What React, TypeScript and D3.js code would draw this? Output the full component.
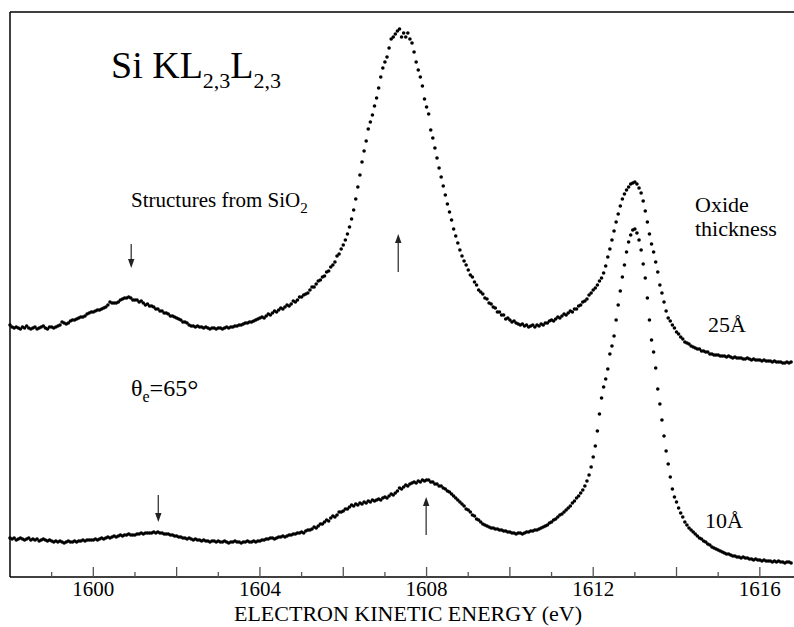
import React from 'react';
import * as d3 from 'd3';

// Energy grid of the measured spectra (eV)
const E_START = 1598.0;
const E_STEP = 0.05;

// Intensity (a.u.), 25 Å oxide, one value per 0.05 eV from 1598.00 eV
const intensity25 = [
  252,250,249,250,249,248,250,249,251,249,248,249,250,248,249,250,251,249,248,250,
  250,249,250,251,252,255,254,253,254,256,257,257,258,259,260,260,261,263,264,265,
  265,266,267,267,268,269,270,272,275,274,274,274,275,277,278,279,279,280,279,277,
  277,277,275,276,274,272,273,271,271,270,268,268,266,266,264,264,263,261,261,260,
  259,258,257,255,255,254,252,251,251,250,251,250,250,249,250,249,248,249,249,248,
  249,249,248,249,250,249,250,250,251,251,252,252,253,254,254,255,255,256,257,258,
  259,260,259,261,263,262,264,266,265,267,269,268,270,272,271,273,276,275,277,280,
  280,282,283,284,287,290,290,293,296,297,300,301,305,306,310,312,315,321,323,328,
  332,337,343,350,358,367,378,390,402,415,426,436,448,455,462,471,479,489,500,509,
  515,520,529,538,540,543,546,548,540,544,540,544,538,534,525,515,507,500,491,478,
  470,463,447,439,429,419,409,400,391,382,373,365,357,348,341,334,327,321,316,312,
  307,302,300,295,292,287,285,283,279,278,274,273,270,269,265,265,262,262,258,259,
  257,255,256,254,253,252,253,251,252,250,251,252,250,252,251,253,252,254,254,256,
  257,256,258,260,259,261,263,262,264,266,265,268,268,271,272,275,276,278,282,284,
  287,289,292,296,299,304,311,320,328,337,346,355,363,371,378,383,387,390,393,394,
  395,393,389,384,376,366,355,343,333,325,315,305,292,284,275,266,259,256,252,249,
  245,243,240,238,235,234,233,231,230,229,228,228,226,226,225,225,223,223,222,222,
  222,221,221,221,220,221,220,219,220,219,219,219,218,218,219,218,217,218,217,217,
  217,216,217,216,216,216,215,216,215,215,215,214,214,215,214,215,
];

// Intensity (a.u.), 10 Å oxide
const intensity10 = [
  39,38,39,37,38,39,38,37,38,39,37,38,37,38,36,37,38,37,36,37,
  36,35,36,35,36,35,34,35,36,35,35,36,35,36,36,37,36,37,37,37,
  37,38,37,38,39,38,39,40,39,40,41,40,41,42,41,42,42,43,42,42,
  42,43,43,44,43,44,44,44,44,45,44,45,44,44,43,43,43,42,42,41,
  41,40,40,39,39,38,39,38,37,38,37,37,36,37,36,36,35,36,36,35,
  36,35,35,36,35,34,35,35,36,35,35,34,35,35,36,35,35,36,35,36,
  36,37,37,38,38,39,39,38,39,40,40,41,40,41,42,42,43,43,44,44,
  45,44,46,47,47,48,50,49,51,53,53,55,57,56,59,61,60,62,65,65,
  66,68,68,70,72,71,73,72,74,73,75,74,76,75,77,76,77,78,77,79,
  80,79,81,83,82,84,86,89,88,90,92,91,93,94,95,94,96,95,97,96,
  97,97,95,95,93,93,91,91,89,88,86,85,83,81,79,77,75,73,71,68,
  67,65,62,61,58,57,55,53,52,51,50,49,49,48,48,47,47,46,46,45,
  45,44,44,43,44,44,43,44,45,45,46,46,47,47,48,49,50,51,52,54,
  55,57,58,60,62,63,65,67,69,71,74,76,79,81,84,87,91,96,102,110,
  120,131,146,163,179,190,198,208,223,231,241,257,272,286,300,312,325,335,342,347,
  348,344,337,327,313,299,279,257,237,225,209,188,173,157,141,126,113,100,88,80,
  75,69,64,60,55,52,49,47,45,43,41,39,38,36,35,33,32,30,29,28,
  27,26,25,24,23,23,22,21,21,20,20,19,20,19,19,18,18,17,18,17,
  17,16,17,16,16,16,15,16,15,16,15,15,14,15,15,14,
];

const labeledTicks = [1600, 1604, 1608, 1612, 1616];
const allTicks = [1599, 1600, 1601, 1602, 1603, 1604, 1605, 1606, 1607, 1608, 1609, 1610, 1611, 1612, 1613, 1614, 1615, 1616];

// Arrow markers: energy, tail and head intensity
const arrowMarks = [
  { energy: 1600.91, tail: 333, head: 309 },
  { energy: 1607.32, tail: 305, head: 343 },
  { energy: 1601.56, tail: 82, head: 55 },
  { energy: 1607.99, tail: 42, head: 80 },
];

const W = 794;
const H = 627;
const FONT = '"Liberation Serif", "Times New Roman", serif';

export default function App() {
  const x = d3.scaleLinear().domain([1598.0, 1616.82]).range([10, 794]);
  const y = d3.scaleLinear().domain([0, 565]).range([577, 12]);

  const pts25 = intensity25.map((v, i) => ({ e: E_START + i * E_STEP, v }));
  const pts10 = intensity10.map((v, i) => ({ e: E_START + i * E_STEP, v }));

  const arrow = (a: { energy: number; tail: number; head: number }, k: number) => {
    const ax = x(a.energy);
    const yt = y(a.tail);
    const yh = y(a.head);
    const dir = yh > yt ? 1 : -1;
    const hl = 9;
    const hw = 3.2;
    return (
      <g key={k}>
        <line x1={ax} x2={ax} y1={yt} y2={yh - dir * hl} stroke="#444" strokeWidth={1.4} />
        <path d={`M${ax},${yh} L${ax - hw},${yh - dir * hl} L${ax + hw},${yh - dir * hl} Z`} fill="#222" />
      </g>
    );
  };

  return (
    <svg width={W} height={H} style={{ position: 'absolute', left: 0, top: 0, background: '#fff' }} fontFamily={FONT}>
      <rect x={0} y={0} width={W} height={H} fill="#fff" />
      {/* frame */}
      <line x1={10} x2={W} y1={12} y2={12} stroke="#000" strokeWidth={1.5} />
      <line x1={10} x2={10} y1={12} y2={577} stroke="#000" strokeWidth={1.5} />
      <line x1={10} x2={W} y1={577} y2={577} stroke="#000" strokeWidth={1.5} />
      {allTicks.map((t) => (
        <line key={t} x1={x(t)} x2={x(t)} y1={577} y2={t % 2 === 0 ? 567 : 572} stroke="#555" strokeWidth={1.3} />
      ))}
      {labeledTicks.map((t) => (
        <text key={t} x={x(t)} y={596} fontSize={21} textAnchor="middle" fill="#000">{t}</text>
      ))}
      <text x={408} y={621} fontSize={22} textAnchor="middle" fill="#000">ELECTRON KINETIC ENERGY (eV)</text>

      {/* data */}
      <g fill="#000">
        {pts25.map((p, i) => (
          <circle key={'a' + i} cx={x(p.e)} cy={y(p.v)} r={1.8} />
        ))}
        {pts10.map((p, i) => (
          <circle key={'b' + i} cx={x(p.e)} cy={y(p.v)} r={1.8} />
        ))}
      </g>

      {arrowMarks.map(arrow)}

      {/* annotations */}
      <text x={111} y={78} fontSize={38} fill="#000">
        Si KL<tspan fontSize={22} dy={10}>2,3</tspan><tspan fontSize={38} dy={-10}>L</tspan><tspan fontSize={22} dy={10}>2,3</tspan>
      </text>
      <text x={131} y={207} fontSize={21} fill="#000">
        Structures from SiO<tspan fontSize={15} dy={6}>2</tspan>
      </text>
      <text x={695} y={212} fontSize={22} fill="#000">Oxide</text>
      <text x={695} y={236} fontSize={22} fill="#000">thickness</text>
      <text x={708} y={332} fontSize={22} fill="#000">25Å</text>
      <text x={705} y={528} fontSize={22} fill="#000">10Å</text>
      <text x={131} y={396} fontSize={24} fill="#000">
        θ<tspan fontSize={16} dy={6}>e</tspan><tspan fontSize={24} dy={-6}>=65</tspan><tspan fontSize={28} dy={3}>°</tspan>
      </text>
    </svg>
  );
}
